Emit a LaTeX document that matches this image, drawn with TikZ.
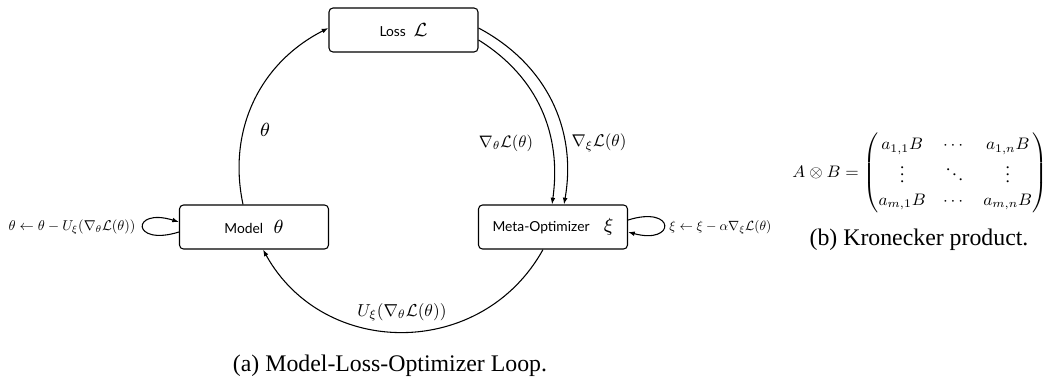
\documentclass[tikz,border=0pt]{standalone}
\usepackage{amsmath}
\usepackage{graphicx}
\usepackage{fontspec}
\setmainfont{Liberation Serif}
\newfontfamily\nodefont{Lato}
\usetikzlibrary{calc,arrows.meta}
\newcommand{\boxtxt}[3]{{\nodefont\fontsize{5.8}{6}\selectfont #1}\hspace{#3}{\fontsize{8}{9}\selectfont$#2$}}
\newcommand{\fitw}[2]{\resizebox{#1}{!}{$#2$}}
\tikzset{
  box/.style={draw, rounded corners=1.7pt, minimum width=62.6pt, minimum height=18.5pt, inner sep=0pt, line width=0.45pt},
  arr/.style={-{Latex[length=2.8pt,width=2pt]}, line width=0.45pt},
  lab/.style={inner sep=0pt},
  biglab/.style={inner sep=0pt, font=\fontsize{8.5}{9}\selectfont},
  captxt/.style={inner sep=0pt, font=\fontsize{10}{12}\selectfont}
}
\begin{document}
\begin{tikzpicture}[x=0.42pt,y=0.42pt]
\useasboundingbox (0,0) rectangle (1049,377);
\node[box] (loss) at (403.5,347) {\boxtxt{Loss}{\mathcal{L}}{3.2pt}};
\node[box] (model) at (254,150) {\boxtxt{Model}{\theta}{4.4pt}};
\node[box] (meta) at (553,150) {\boxtxt{Meta-Optimizer}{\xi}{6pt}};

\draw[arr] ($(model.north)+(-11,0)$) to[out=102,in=207] ($(loss.west)+(0,2)$);
\node[biglab] (thlab) at (265,247) {$\theta$};

\draw[arr] ($(loss.east)+(0,2)$) to[out=-28,in=80] ($(meta.north)+(11,0)$);
\draw[arr] ($(loss.east)+(0,-10)$) to[out=-32,in=82] ($(meta.north)+(-1,0)$);
\node[lab] (gth) at (506,234) {\fitw{22.7pt}{\nabla_\theta\mathcal{L}(\theta)}};
\node[lab] (gxi) at (599,234) {\fitw{23.1pt}{\nabla_\xi\mathcal{L}(\theta)}};

\draw[arr] ($(meta.south)+(-10,0)$) to[out=-119,in=-61,looseness=1.15] ($(model.south)+(9,0)$);
\node[lab] (ulab) at (402,65) {\fitw{37.4pt}{U_\xi(\nabla_\theta\mathcal{L}(\theta))}};

\draw[arr] ($(model.west)+(0,-5)$) .. controls +(-48,-15) and +(-48,15) .. ($(model.west)+(0,5)$);
\node[lab, anchor=east] (mlab) at (136,150) {\fitw{53.3pt}{\theta\leftarrow\theta-U_\xi(\nabla_\theta\mathcal{L}(\theta))}};
\draw[arr] ($(meta.east)+(0,7)$) .. controls +(48,15) and +(48,-13) .. ($(meta.east)+(0,-5)$);
\node[lab, anchor=west] (xlab) at (669,150) {\fitw{42.8pt}{\xi\leftarrow\xi-\alpha\nabla_\xi\mathcal{L}(\theta)}};

\node[captxt] (capa) at (390,11) {(a) Model-Loss-Optimizer Loop.};

\node[inner sep=0pt, anchor=west, font=\fontsize{10}{14}\selectfont] (kron) at (792,204) {\resizebox*{107pt}{33.6pt}{$A\otimes B=\begin{pmatrix} a_{1,1}B & \cdots & a_{1,n}B\\ \vdots & \ddots & \vdots\\ a_{m,1}B & \cdots & a_{m,n}B\end{pmatrix}$}};
\node[captxt] (capb) at (919,137) {(b) Kronecker product.};
\end{tikzpicture}
\end{document}
